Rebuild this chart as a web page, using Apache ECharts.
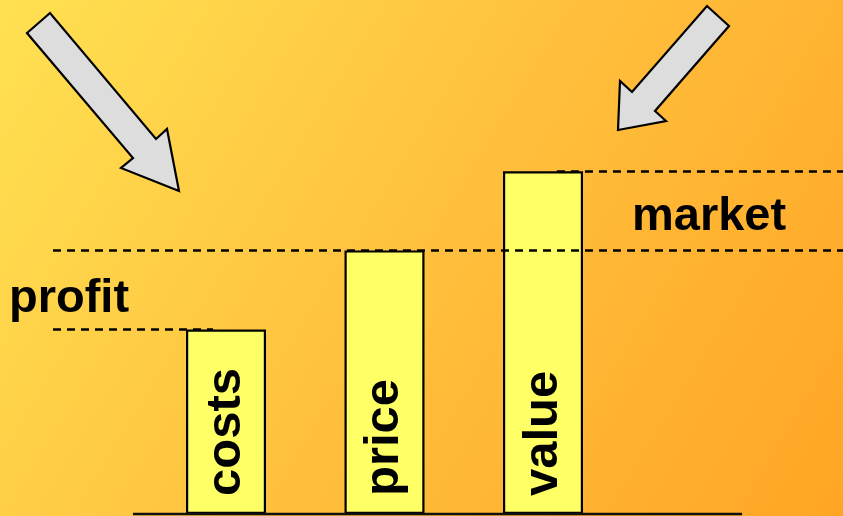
<!DOCTYPE html>
<html>
<head>
<meta charset="utf-8">
<script src="https://cdn.jsdelivr.net/npm/echarts@6/dist/echarts.min.js"></script>
<style>
html,body{margin:0;padding:0;background:#fff;}
#chart{width:843px;height:516px;}
</style>
</head>
<body>
<div id="chart"></div>
<script>
// ---- data ----
const categories = ['costs', 'price', 'value'];
const positions = [1, 2, 3];
const values = [7, 10, 13];
const annotationLabels = ['profit', 'market'];

// ---- layout constants (axis ranges) ----
const X_MIN = -0.4259, X_MAX = 4.8927;
const Y_MIN = 0, Y_MAX = 19.5;

const chart = echarts.init(document.getElementById('chart'), null, {renderer: 'canvas'});
const font = '"Liberation Sans", Arial, sans-serif';

const barData = categories.map((c, i) => ({value: [positions[i], values[i]], name: c}));

const dashed = {color: '#000', width: 2.6, type: [8, 6], opacity: 1};
const solid = {color: '#111', width: 2.4, type: 'solid', opacity: 1};

const option = {
  animation: false,
  backgroundColor: new echarts.graphic.LinearGradient(0, 0, 1, 1, [
    {offset: 0, color: '#FFE152'},
    {offset: 0.5, color: '#FFC03D'},
    {offset: 1, color: '#FFA524'}
  ]),
  grid: {left: 0, right: 0, top: 0, bottom: 2, containLabel: false},
  xAxis: {type: 'value', min: X_MIN, max: X_MAX, show: false},
  yAxis: {type: 'value', min: Y_MIN, max: Y_MAX, show: false},
  series: [{
    type: 'bar',
    data: barData,
    barWidth: 80,
    itemStyle: {color: '#FFFF66', borderColor: '#000', borderWidth: 2.2},
    label: {
      show: true,
      formatter: p => p.name,
      position: 'insideBottom',
      rotate: 90,
      align: 'left',
      verticalAlign: 'middle',
      distance: 21,
      offset: [-3, 0],
      color: '#000',
      fontSize: 49,
      fontWeight: 'bold',
      fontFamily: font
    },
    markLine: {
      silent: true,
      symbol: 'none',
      label: {show: false},
      lineStyle: dashed,
      emphasis: {disabled: true},
      z: 5,
      data: [
        [{coord: [0.413, 0], lineStyle: solid}, {coord: [4.256, 0]}],
        [{coord: [-0.0915, values[0]], lineStyle: dashed}, {coord: [0.918, values[0]]}],
        [{coord: [-0.0915, values[1]], lineStyle: dashed}, {coord: [X_MAX, values[1]]}],
        [{coord: [3.088, values[2]], lineStyle: dashed}, {coord: [X_MAX, values[2]]}]
      ]
    }
  }],
  graphic: [
    {
      type: 'polygon', z: 10,
      shape: {points: [[50,13],[27,33],[133,158],[121,168],[179,191],[167,129],[156,139]]},
      style: {fill: '#DDDDDD', stroke: '#000', lineWidth: 2.2, lineJoin: 'miter'}
    },
    {
      type: 'polygon', z: 10,
      shape: {points: [[707,6],[729,26],[655,111],[666,121],[618,130],[620,81],[632,92]]},
      style: {fill: '#DDDDDD', stroke: '#000', lineWidth: 2.2, lineJoin: 'miter'}
    },
    {
      type: 'text', left: 9, top: 276, z: 10,
      style: {text: annotationLabels[0], fill: '#000', font: 'bold 47px ' + font}
    },
    {
      type: 'text', left: 632, top: 194, z: 10,
      style: {text: annotationLabels[1], fill: '#000', font: 'bold 47px ' + font}
    }
  ]
};
chart.setOption(option);
</script>
</body>
</html>
